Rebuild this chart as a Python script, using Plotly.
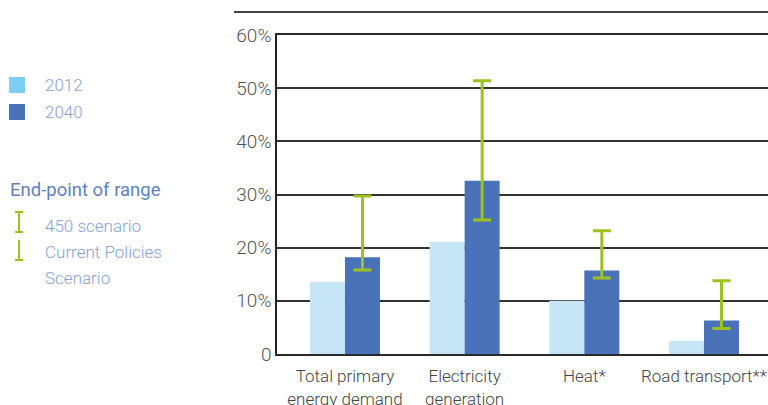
import plotly.graph_objects as go

# ---- data ----
categories = ["Total primary<br>energy demand", "Electricity<br>generation", "Heat*", "Road transport**"]
share_2012 = [13.6, 21.1, 10.0, 2.5]
share_2040 = [18.2, 32.6, 15.7, 6.3]
range_low = [15.8, 25.2, 14.3, 4.8]
range_high = [29.7, 51.4, 23.2, 13.8]
y_tickvals = [0, 10, 20, 30, 40, 50, 60]
y_ticktext = ["0", "10%", "20%", "30%", "40%", "50%", "60%"]

# ---- geometry helpers (layout only) ----
W, H = 768, 405
L, R, T, B = 277, 0, 35, 51
PW, PH = W - L - R, H - T - B


def px(x):
    return (x - L) / PW


def py(y):
    return (H - B - y) / PH


C2012 = "#C6E6F8"
C2012_LEG = "#7FCEF5"
C2040 = "#4A72B8"
GREEN = "#9BC31C"
LEG_TXT = "#86A2D8"
HEAD_TXT = "#5E80C2"
FONT = "Roboto"
WT = 300

err_plus = [h - v for h, v in zip(range_high, share_2040)]
err_minus = [v - l for v, l in zip(share_2040, range_low)]

fig = go.Figure()
fig.add_trace(go.Bar(x=categories, y=share_2012, name="2012", marker=dict(color=C2012, line=dict(width=0))))
fig.add_trace(go.Bar(
    x=categories, y=share_2040, name="2040", marker=dict(color=C2040, line=dict(width=0)),
    error_y=dict(type="data", symmetric=False, array=err_plus, arrayminus=err_minus,
                 color=GREEN, thickness=3, width=9),
))

shapes = []
annotations = []

# top separator line
shapes.append(dict(type="line", xref="paper", yref="paper", x0=px(234), x1=px(768), y0=py(12), y1=py(12),
                   line=dict(color="#444444", width=2)))

# legend squares
for (y0, y1, col, label) in [(77, 93, C2012_LEG, "2012"), (104, 120, C2040, "2040")]:
    shapes.append(dict(type="rect", xref="paper", yref="paper", x0=px(9), x1=px(25), y0=py(y1), y1=py(y0),
                       fillcolor=col, line=dict(width=0)))
    annotations.append(dict(x=px(43), y=py((y0 + y1) / 2), xref="paper", yref="paper", text=label,
                            showarrow=False, xanchor="left", yanchor="middle",
                            font=dict(family=FONT, size=17, color=LEG_TXT, weight=WT)))

annotations.append(dict(x=px(8), y=py(190), xref="paper", yref="paper", text="End-point of range",
                        showarrow=False, xanchor="left", yanchor="middle",
                        font=dict(family=FONT, size=18.5, color=HEAD_TXT)))

# legend error-bar icons
ix = 19
shapes.append(dict(type="line", xref="paper", yref="paper", x0=px(ix), x1=px(ix), y0=py(212), y1=py(232),
                   line=dict(color=GREEN, width=2)))
for yy in (212, 232):
    shapes.append(dict(type="line", xref="paper", yref="paper", x0=px(ix - 4), x1=px(ix + 4), y0=py(yy), y1=py(yy),
                       line=dict(color=GREEN, width=2)))
shapes.append(dict(type="line", xref="paper", yref="paper", x0=px(ix), x1=px(ix), y0=py(240), y1=py(260),
                   line=dict(color=GREEN, width=2)))
shapes.append(dict(type="line", xref="paper", yref="paper", x0=px(ix - 4), x1=px(ix + 4), y0=py(260), y1=py(260),
                   line=dict(color=GREEN, width=2)))

for (yy, txt) in [(226, "450 scenario"), (252, "Current Policies"), (278, "Scenario")]:
    annotations.append(dict(x=px(43), y=py(yy), xref="paper", yref="paper", text=txt,
                            showarrow=False, xanchor="left", yanchor="middle",
                            font=dict(family=FONT, size=17, color=LEG_TXT, weight=WT)))

fig.update_layout(
    width=W, height=H,
    margin=dict(l=L, r=R, t=T, b=B, pad=0, autoexpand=False),
    paper_bgcolor="white", plot_bgcolor="white",
    barmode="group", bargap=0.415, bargroupgap=0,
    showlegend=False,
    shapes=shapes, annotations=annotations,
    font=dict(family=FONT, size=17, color="#555555"),
)
fig.update_xaxes(
    type="category", range=[-0.568, 3.535], automargin=False,
    showline=True, mirror=True, linecolor="#2a2a2a", linewidth=2,
    showgrid=False, ticks="", ticklabelstandoff=6,
    tickfont=dict(family=FONT, size=17, color="#444444", weight=WT),
)
fig.update_yaxes(
    range=[0, 60], tickvals=y_tickvals, ticktext=y_ticktext, automargin=False,
    showline=True, linecolor="#222222", linewidth=1.5,
    showgrid=True, gridcolor="#333333", gridwidth=1.5,
    zeroline=False, ticks="", tickfont=dict(family=FONT, size=19, color="#555555", weight=WT),
)

fig.write_html("out.html", config={"displayModeBar": False},
               post_script="document.body.style.margin='0';document.body.style.overflow='hidden';")
